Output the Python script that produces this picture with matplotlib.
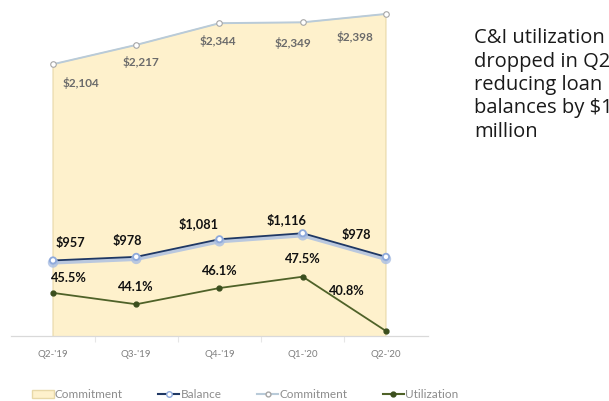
import matplotlib.pyplot as plt
from matplotlib import patheffects as pe
from matplotlib.lines import Line2D
from matplotlib.patches import Patch

quarters = ["Q2-'19", "Q3-'19", "Q4-'19", "Q1-'20", "Q2-'20"]
commitment = [2104, 2217, 2344, 2349, 2398]
balance = [957, 978, 1081, 1116, 978]
utilization = [45.5, 44.1, 46.1, 47.5, 40.8]

# label offsets (pixels) for each series
commit_off = [(28, -19), (5, -17), (-2, -18), (-10, -21), (-31, -23)]
bal_off = [(17, 17), (-9, 16), (-21, 16), (-16, 14), (-30, 22)]
util_off = [(16, 15), (0, 17), (0, 17), (0, 18), (-39, 40)]

plt.rcParams['font.family'] = ['Lato', 'DejaVu Sans']

fig = plt.figure(figsize=(6.09, 4.01), dpi=100)
ax = fig.add_axes([0.0187, 0.162, 0.6834, 0.8254])
ax2 = ax.twinx()
ax.set_zorder(ax2.get_zorder() - 1)
ax2.patch.set_visible(False)

x = list(range(len(quarters)))

ax.fill_between(x, commitment, 0, facecolor='#FEF1CC', edgecolor='#E8D8A8', lw=0.8, zorder=1)
ax.plot(x, commitment, color='#B9CBD9', lw=1.4, marker='o', ms=4,
        mfc='white', mec='#A6A6A6', mew=0.8, zorder=3)
ax.plot(x, balance, color='#1F3864', lw=1.3, marker='o', ms=4.5,
        mfc='white', mec='#8EA9DB', mew=1.3, zorder=4,
        path_effects=[pe.SimpleLineShadow(offset=(0, -1.5), shadow_color='#A9BEE3',
                                          alpha=0.8, linewidth=3), pe.Normal()])
ax2.plot(x, utilization, color='#4F6228', lw=1.3, marker='o', ms=3.5,
         mfc='#3B4F1E', mec='#3B4F1E', zorder=4)

for i, v in enumerate(commitment):
    ax.annotate(f"${v:,}", (i, v), xytext=commit_off[i], textcoords='offset pixels',
                ha='center', va='center', fontsize=8.5, color='#6B6B6B', fontweight='bold')
for i, v in enumerate(balance):
    ax.annotate(f"${v:,}", (i, v), xytext=bal_off[i], textcoords='offset pixels',
                ha='center', va='center', fontsize=9.2, color='#111111', fontweight='bold')
for i, v in enumerate(utilization):
    ax2.annotate(f"{v}%", (i, v), xytext=util_off[i], textcoords='offset pixels',
                 ha='center', va='center', fontsize=9.2, color='#111111', fontweight='bold')

ax.set_xlim(-0.5, 4.5)
ax.set_ylim(515, 2450)
ax2.set_ylim(40.18, 81.0)

ax.set_xticks(x)
ax.set_xticklabels(quarters, fontsize=7, color='#7F7F7F')
ax.set_xticks([0.5, 1.5, 2.5, 3.5], minor=True)
ax.tick_params(axis='x', which='major', length=0, pad=10)
ax.tick_params(axis='x', which='minor', length=4, color='#E6E6E6', width=0.8)
ax.set_yticks([])
ax2.set_yticks([])
for a in (ax, ax2):
    for s in ('top', 'left', 'right'):
        a.spines[s].set_visible(False)
    a.spines['bottom'].set_color('#D9D9D9')

fig.text(0.778, 0.93, "C&I utilization\ndropped in Q2\nreducing loan\nbalances by $138\nmillion",
         fontsize=14.5, color='#1A1A1A', va='top', ha='left', linespacing=1.23,
         family=['Open Sans', 'DejaVu Sans'])

handles = [
    Patch(facecolor='#FEF1CC', edgecolor='#E8D8A8', label='Commitment'),
    Line2D([], [], color='#1F3864', marker='o', ms=4, mfc='white', mec='#8EA9DB', label='Balance'),
    Line2D([], [], color='#B9CBD9', marker='o', ms=3.5, mfc='white', mec='#A6A6A6', label='Commitment'),
    Line2D([], [], color='#4F6228', marker='o', ms=3.5, mfc='#3B4F1E', mec='#3B4F1E', label='Utilization'),
]
leg = fig.legend(handles=handles, loc='center', bbox_to_anchor=(0.403, 0.015), ncol=4,
                 frameon=False, fontsize=8.5, handlelength=1.8, handletextpad=0.1,
                 columnspacing=3.0)
for t in leg.get_texts():
    t.set_color('#8C8C8C')

plt.savefig('out.png', dpi=100)
